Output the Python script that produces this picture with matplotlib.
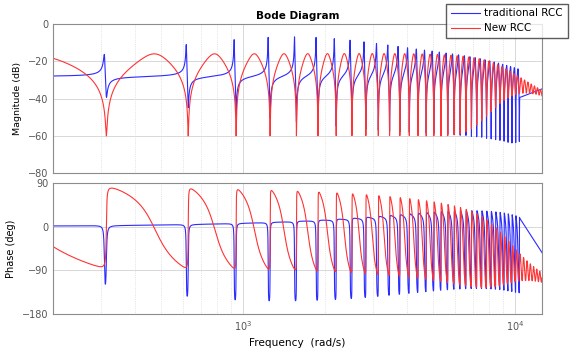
import numpy as np
import matplotlib.pyplot as plt
from matplotlib.ticker import LogLocator, NullFormatter, FixedLocator

# values
w0 = 314.16                 # rad/s, first notch (50 Hz harmonic spacing)
w_range = [200, 12566]      # x limits
mag_ticks = [0, -20, -40, -60, -80]
phase_ticks = [90, 0, -90, -180]
series_names = ["traditional RCC", "New RCC"]

# traditional RCC: baseline gain, notch/peak radii, peak offset and roll-off corners
blue_gain_db = -28.0
blue_r_zero = 0.97
blue_r_pole = 0.972
blue_shift_corner = 6000.0
blue_q_corner, blue_q_order = 5200.0, 2.8
blue_zero_cut = 11500.0
blue_lag_corner, blue_lag_zeta = 14000.0, 0.3
blue_mag_corner = 7570.0
blue_last_w = 10400.0       # dense grid ends here, next sample lies past the axis
blue_next_harmonic = 40.5

# new RCC: gain, notch radius, peak sharpening, filter corners
red_gain_db = -25.0
red_r = 0.977
red_c = 0.3
red_q_corner = 9000.0
red_lp_corner = 11000.0
red_mag_corner = 7000.0

T = 2 * np.pi / w0


def second_order(w, wn, zeta):
    s = 1j * w
    return s**2 + 2 * zeta * wn * s + wn**2


def traditional(w):
    z = np.exp(-1j * w * T)
    phi = 2 * np.arctan(w / blue_shift_corner)
    q = 1 / np.sqrt(1 + (w / blue_q_corner) ** blue_q_order)
    qz = 1 / np.sqrt(1 + (w / blue_zero_cut) ** 40)
    num = 1 - blue_r_zero * qz * z
    den = 1 - blue_r_pole * q * z * np.exp(-1j * phi)
    h = 10 ** (blue_gain_db / 20) * num / den
    h = h * blue_lag_corner**2 / second_order(w, blue_lag_corner, blue_lag_zeta)
    return h / np.sqrt(1 + (w / blue_mag_corner) ** 6)


def new_rcc(w):
    z = np.exp(-1j * w * T)
    q = 1 / np.sqrt(1 + (w / red_q_corner) ** 12)
    h = 10 ** (red_gain_db / 20) * (1 - red_r * q * z) / (1 + red_c * q * z)
    h = h * red_lp_corner**2 / second_order(w, red_lp_corner, 0.5)
    return h / np.sqrt(1 + (w / red_mag_corner) ** 4)


w_red = np.logspace(np.log10(w_range[0]), np.log10(w_range[1]), 40000)
w_blue = np.append(w_red[w_red <= blue_last_w], blue_next_harmonic * w0)

hb = traditional(w_blue)
hr = new_rcc(w_red)
mag_b = 20 * np.log10(np.abs(hb))
mag_r = 20 * np.log10(np.abs(hr))
ph_b = np.degrees(np.unwrap(np.angle(hb)))
ph_r = np.degrees(np.unwrap(np.angle(hr)))

fig = plt.figure(figsize=(5.73, 3.49), dpi=100)
ax1 = fig.add_axes([0.0925, 0.504, 0.8535, 0.427])
ax2 = fig.add_axes([0.0925, 0.100, 0.8535, 0.376])

blue = '#2b2bff'
red = '#ff3333'
l1, = ax1.semilogx(w_blue, mag_b, color=blue, lw=0.8)
l2, = ax1.semilogx(w_red, mag_r, color=red, lw=0.8)
ax2.semilogx(w_blue, ph_b, color=blue, lw=0.8)
ax2.semilogx(w_red, ph_r, color=red, lw=0.8)

for ax in (ax1, ax2):
    ax.set_xlim(w_range)
    ax.xaxis.set_major_locator(LogLocator(base=10, numticks=10))
    ax.xaxis.set_minor_locator(LogLocator(base=10, subs=np.arange(2, 10), numticks=10))
    ax.xaxis.set_minor_formatter(NullFormatter())
    ax.grid(True, which='major', color='#d8d8d8', lw=0.7)
    ax.grid(True, which='minor', color='#d0d0d0', lw=0.5, ls=':')
    ax.tick_params(which='both', direction='in', colors='#555555', labelsize=7, length=0)
    for sp in ax.spines.values():
        sp.set_color('#8c8c8c')
        sp.set_linewidth(0.8)

ax1.set_ylim(-80, 0)
ax1.yaxis.set_major_locator(FixedLocator(mag_ticks))
ax1.set_xticklabels([])
ax1.set_ylabel('Magnitude (dB)', fontsize=6.8)
ax2.set_ylim(-180, 90)
ax2.yaxis.set_major_locator(FixedLocator(phase_ticks))
ax2.set_ylabel('Phase (deg)', fontsize=7)
ax2.set_xlabel('Frequency  (rad/s)', fontsize=7.6)
ax1.set_title('Bode Diagram', fontsize=7.5, fontweight='bold', pad=4)

fig.legend([l1, l2], series_names, loc='upper right', bbox_to_anchor=(1.0, 1.004),
           fontsize=7.5, frameon=True, fancybox=False, edgecolor='#333333',
           borderpad=0.45, labelspacing=0.45, handlelength=2.8, handletextpad=0.4)

fig.savefig('out.png', dpi=100)
